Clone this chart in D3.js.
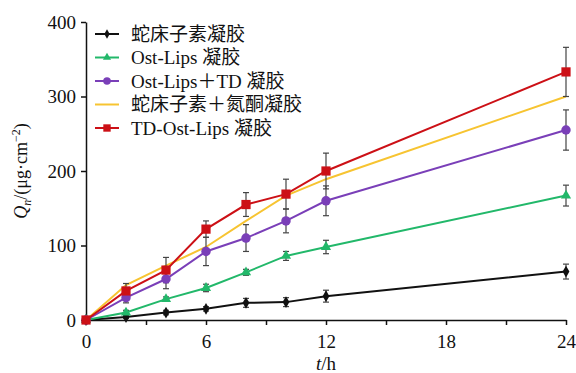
<!DOCTYPE html>
<html>
<head>
<meta charset="utf-8">
<script src="https://cdn.jsdelivr.net/npm/d3@7"></script>
<style>
	body { margin: 0; background: #fff; }
	text { font-family: 'Liberation Serif', 'Noto Sans CJK SC', serif; }
</style>
</head>
<body>
<div id="chart"></div>
<script>
// Cumulative permeation Qn (µg·cm^-2) vs time (h)
const times = [0, 2, 4, 6, 8, 10, 12, 24];
const seriesNames = ['蛇床子素凝胶', 'Ost-Lips 凝胶', 'Ost-Lips＋TD 凝胶', '蛇床子素＋氮酮凝胶', 'TD-Ost-Lips 凝胶'];
const osthole = [0, 4, 10, 15, 23, 24, 32, 65];
const ostholeErr = [0, 2, 3, 3, 6, 6, 8, 10];
const ostLips = [0, 10, 28, 43, 64, 86, 98, 167];
const ostLipsErr = [0, 3, 3, 5, 4, 6, 9, 14];
const ostLipsTD = [0, 30, 55, 92, 110, 133, 160, 255];
const ostLipsTDErr = [0, 7, 13, 19, 18, 16, 20, 27];
const ostholeAzone = [0, 47, 73, 98, 133, 167, 189, 300];
const tdOstLips = [0, 39, 67, 122, 155, 169, 200, 333];
const tdOstLipsErr = [0, 10, 17, 11, 16, 20, 24, 33];
const xTicks = [0, 3, 6, 9, 12, 15, 18, 21, 24];
const yTicks = [0, 100, 200, 300, 400];

const width = 576;
const height = 373;

const series = [
	{name: seriesNames[0], values: osthole, err: ostholeErr, colour: '#111111', marker: 'diamond'},
	{name: seriesNames[1], values: ostLips, err: ostLipsErr, colour: '#22b86a', marker: 'triangle'},
	{name: seriesNames[2], values: ostLipsTD, err: ostLipsTDErr, colour: '#7a3fb8', marker: 'circle'},
	{name: seriesNames[3], values: ostholeAzone, err: null, colour: '#f7c431', marker: null},
	{name: seriesNames[4], values: tdOstLips, err: tdOstLipsErr, colour: '#cc1016', marker: 'square'}
];

const svg = d3.select('#chart').append('svg').attr('width', width).attr('height', height);

const x = d3.scaleLinear().domain([0, 24]).range([86, 566]);
const y = d3.scaleLinear().domain([0, 400]).range([320, 22]);

// Axes
const xAxis = svg
	.append('g')
	.attr('transform', `translate(0, ${y(0)})`)
	.call(
		d3
			.axisBottom(x)
			.tickValues(xTicks)
			.tickSize(5)
			.tickSizeOuter(0)
			.tickFormat((d) => (d % 6 === 0 ? d : ''))
	);
const yAxis = svg
	.append('g')
	.attr('transform', `translate(${x(0)}, 0)`)
	.call(d3.axisLeft(y).tickValues(yTicks).tickSize(5).tickSizeOuter(0));

[xAxis, yAxis].forEach((ax) => {
	ax.select('.domain').attr('stroke', '#111').attr('stroke-width', 1.5);
	ax.selectAll('.tick line').attr('stroke', '#111').attr('stroke-width', 1.5);
	ax.selectAll('.tick text').attr('fill', '#111').style('font-size', '19px').style('font-family', 'Liberation Serif');
});
xAxis.selectAll('.tick text').attr('dy', '1.05em');
yAxis.selectAll('.tick text').attr('x', -10);

// Lines
const line = d3
	.line()
	.x((d, i) => x(times[i]))
	.y((d) => y(d));

series.forEach((s) => {
	svg.append('path')
		.datum(s.values)
		.attr('fill', 'none')
		.attr('stroke', s.colour)
		.attr('stroke-width', 2)
		.attr('d', line);
});

// Error bars
series.forEach((s) => {
	if (!s.err) return;
	const g = svg.append('g').attr('stroke', '#444').attr('stroke-width', 1.2);
	s.values.forEach((v, i) => {
		const e = s.err[i];
		if (!e) return;
		const cx = x(times[i]);
		g.append('line').attr('x1', cx).attr('x2', cx).attr('y1', y(v - e)).attr('y2', y(v + e));
		g.append('line').attr('x1', cx - 3).attr('x2', cx + 3).attr('y1', y(v - e)).attr('y2', y(v - e));
		g.append('line').attr('x1', cx - 3).attr('x2', cx + 3).attr('y1', y(v + e)).attr('y2', y(v + e));
	});
});

// Markers
function markerPath(type) {
	if (type === 'diamond') return d3.symbol().type(d3.symbolDiamond).size(40)();
	if (type === 'triangle') return d3.symbol().type(d3.symbolTriangle).size(45)();
	if (type === 'circle') return d3.symbol().type(d3.symbolCircle).size(70)();
	if (type === 'square') return d3.symbol().type(d3.symbolSquare).size(85)();
	return null;
}

series.forEach((s) => {
	if (!s.marker) return;
	svg.append('g')
		.selectAll('path')
		.data(s.values)
		.enter()
		.append('path')
		.attr('d', markerPath(s.marker))
		.attr('transform', (d, i) => `translate(${x(times[i])}, ${y(d)})`)
		.attr('fill', s.colour);
});

// Legend
const legend = svg.append('g');
series.forEach((s, i) => {
	const ly = 34 + i * 23.5;
	legend.append('line')
		.attr('x1', 95)
		.attr('x2', 119)
		.attr('y1', ly)
		.attr('y2', ly)
		.attr('stroke', s.colour)
		.attr('stroke-width', 2);
	if (s.marker) {
		legend.append('path')
			.attr('d', markerPath(s.marker))
			.attr('transform', `translate(107, ${ly}) scale(0.8)`)
			.attr('fill', s.colour);
	}
	legend.append('text')
		.attr('x', 131)
		.attr('y', ly)
		.attr('dy', '0.35em')
		.style('font-size', '19px')
		.attr('fill', '#111')
		.text(s.name);
});

// Axis titles
const yTitle = svg
	.append('text')
	.attr('transform', 'translate(27, 171) rotate(-90)')
	.attr('text-anchor', 'middle')
	.style('font-size', '18px')
	.attr('fill', '#111');
yTitle.append('tspan').style('font-style', 'italic').text('Q');
yTitle.append('tspan').style('font-style', 'italic').style('font-size', '12px').attr('dy', 4).text('n');
yTitle.append('tspan').attr('dy', -4).text('/(μg·cm');
yTitle.append('tspan').style('font-size', '12px').attr('dy', -7).text('−2');
yTitle.append('tspan').attr('dy', 7).text(')');

const xTitle = svg
	.append('text')
	.attr('x', 326)
	.attr('y', 370)
	.attr('text-anchor', 'middle')
	.style('font-size', '19px')
	.attr('fill', '#111');
xTitle.append('tspan').style('font-style', 'italic').text('t');
xTitle.append('tspan').text('/h');
</script>
</body>
</html>
